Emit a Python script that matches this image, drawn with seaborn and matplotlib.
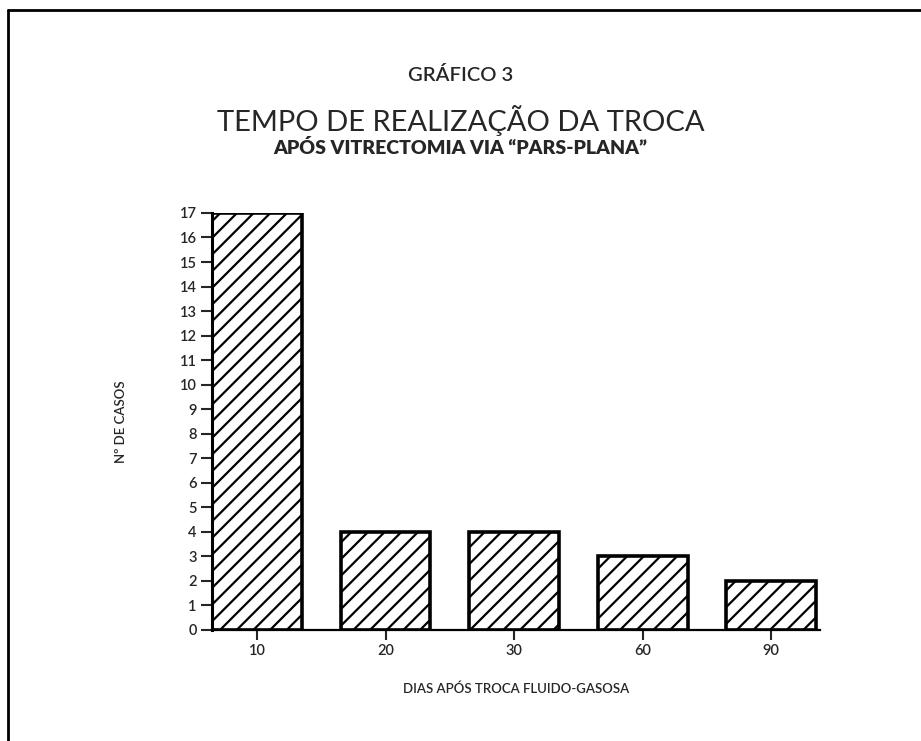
import matplotlib
matplotlib.use("Agg")
import matplotlib.pyplot as plt
import seaborn as sns
import pandas as pd
from matplotlib.lines import Line2D

days = ["10", "20", "30", "60", "90"]
cases = [17, 4, 4, 3, 2]
yticks = list(range(0, 18))

sns.set_style("white")
plt.rcParams['font.family'] = ['Lato', 'DejaVu Sans']
plt.rcParams['hatch.linewidth'] = 1.6
plt.rcParams['hatch.color'] = 'black'

df = pd.DataFrame({"dias": days, "casos": cases})

fig = plt.figure(figsize=(9.21, 7.41), dpi=100)
ax = fig.add_axes([0.2302, 0.1498, 0.660, 0.5628])

sns.barplot(data=df, x="dias", y="casos", ax=ax, color="white",
            edgecolor="black", linewidth=2.6, width=0.7, hatch="//",
            saturation=1)

ax.set_xlim(-0.35, 4.38)
ax.set_ylim(0, 17)
ax.set_yticks(yticks)
ax.set_yticklabels([str(t) for t in yticks], fontsize=10.5, fontweight='semibold')
for lab in ax.get_xticklabels():
    lab.set_fontweight('semibold')
ax.tick_params(axis='x', labelsize=10.5, length=7, width=1.5, direction='out', pad=3)
ax.tick_params(axis='y', length=8, width=1.5, direction='out', pad=3)
ax.tick_params(left=True, bottom=True)

for s in ['top', 'right']:
    ax.spines[s].set_visible(False)
ax.spines['left'].set_linewidth(2.2)
ax.spines['bottom'].set_linewidth(1.6)
ax.spines['left'].set_color('black')
ax.spines['bottom'].set_color('black')

ax.set_xlabel("DIAS APÓS TROCA FLUIDO-GASOSA", fontsize=9.5, labelpad=18, fontweight='semibold')
ax.set_ylabel("Nº DE CASOS", fontsize=9.5, labelpad=38, fontweight='semibold')

fig.text(0.5, 1 - 75/741, "GRÁFICO 3", ha='center', va='center', fontsize=14.5, fontweight='semibold')
fig.text(0.5, 1 - 121/741, "TEMPO DE REALIZAÇÃO DA TROCA", ha='center', va='center', fontsize=21)
fig.text(0.5, 1 - 148/741, "APÓS VITRECTOMIA VIA “PARS-PLANA”", ha='center', va='center',
         fontsize=14, fontweight='heavy')

fig.add_artist(Line2D([8/921, 8/921], [0, 1 - 10/741], color='black', linewidth=2, transform=fig.transFigure))
fig.add_artist(Line2D([8/921, 1], [1 - 10/741, 1 - 10/741], color='black', linewidth=2, transform=fig.transFigure))

fig.savefig("out.png", dpi=100)
